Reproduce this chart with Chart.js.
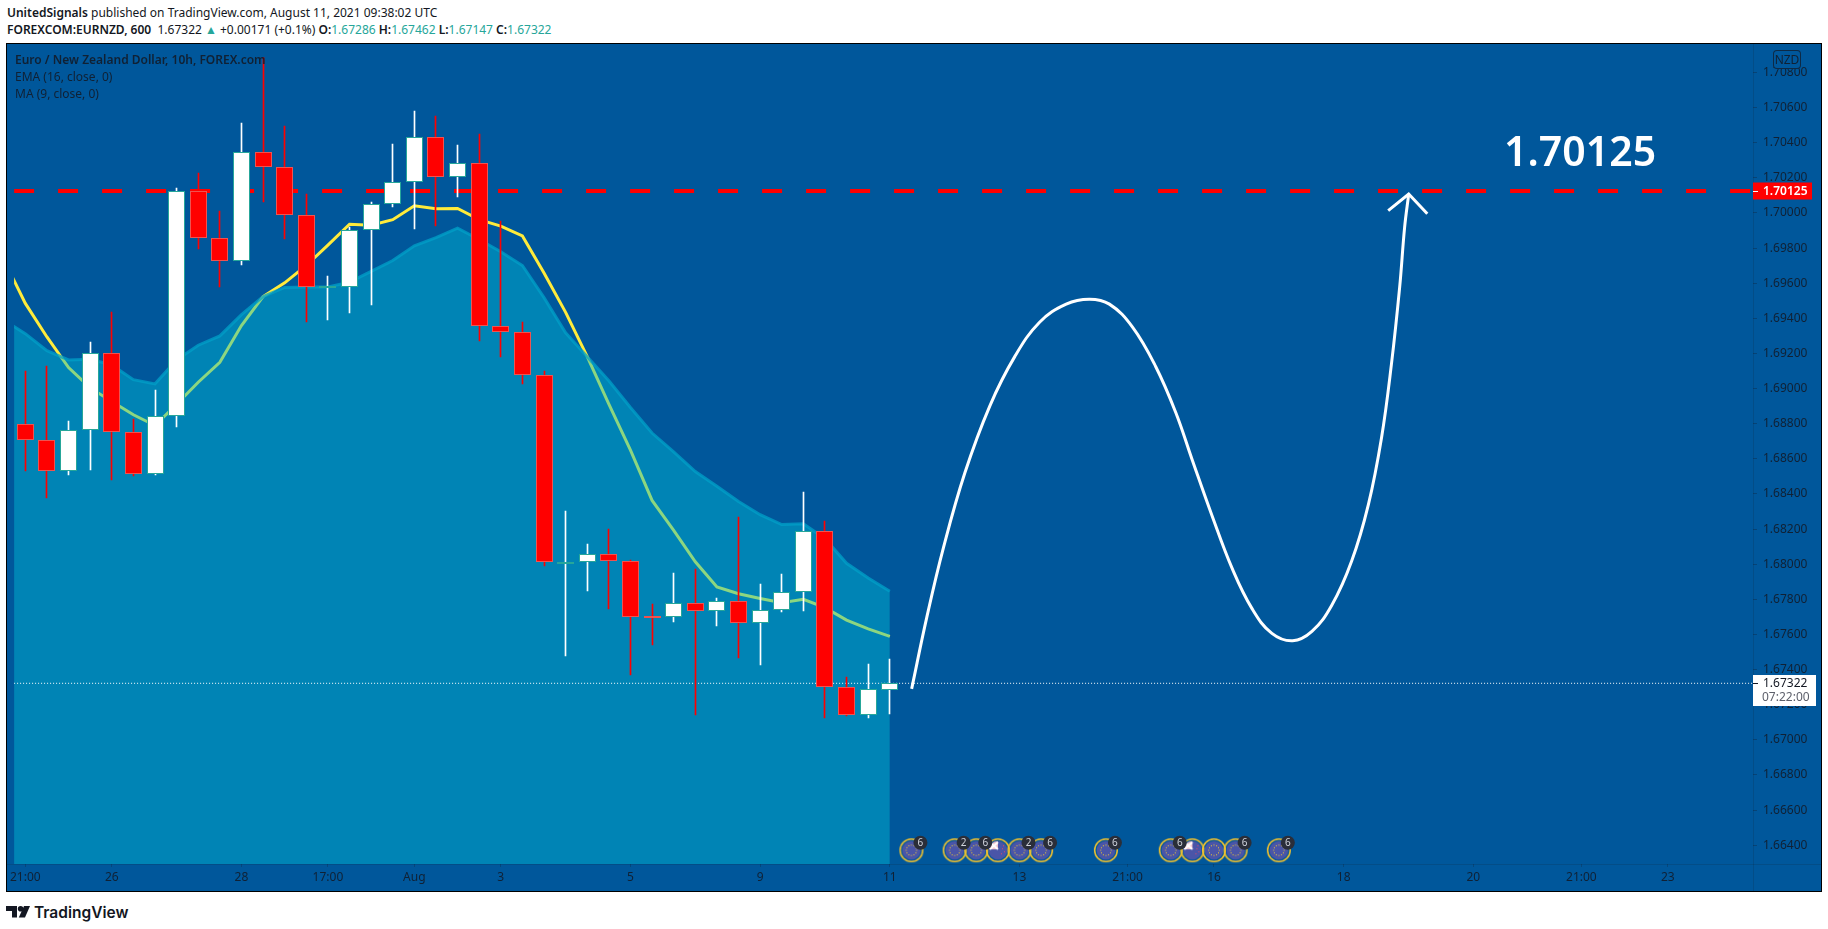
<!DOCTYPE html>
<html>
<head>
<meta charset="utf-8">
<title>EURNZD</title>
<script src="https://cdn.jsdelivr.net/npm/chart.js@4/dist/chart.umd.min.js"></script>
<style>
  html, body { margin: 0; padding: 0; background: #fff; width: 1828px; height: 929px; overflow: hidden; }
  body { font-family: "Noto Sans", sans-serif; color: #131722; position: relative; }
  .line { position: absolute; left: 7px; font-size: 12px; white-space: nowrap; line-height: 17px; }
  .line b { font-weight: 600; }
  .teal { color: #26a69a; }
  #pane { position: absolute; left: 6px; top: 43px; width: 1814px; height: 847px; border: 1px solid #000; background: #00579b; overflow: hidden; }
  #pane canvas { position: absolute; left: 0; top: 0; }
  .rule { position: absolute; background: rgba(19,23,34,0.16); }
  #legend { position: absolute; left: 8px; top: 7px; font-size: 12px; line-height: 17px; color: rgba(19,23,34,0.85); white-space: nowrap; }
  #legend b { font-weight: 600; }
  #nzd { position: absolute; left: 1766px; top: 6px; width: 26px; height: 17px; line-height: 17px; border: 1px solid rgba(19,23,34,0.7); border-radius: 4px; background: #00579b; font-size: 12px; text-align: center; color: rgba(19,23,34,0.85); box-sizing: content-box; }
  #logo { position: absolute; left: 6px; top: 900px; height: 24px; display: flex; align-items: center; font-family: Inter, sans-serif; font-weight: 600; font-size: 15.5px; color: #131722; }
  #logo svg { margin-right: 4px; }
</style>
</head>
<body>
<div class="line" style="top:4px"><b>UnitedSignals</b> published on TradingView.com, August 11, 2021 09:38:02 UTC</div>
<div class="line" style="top:21px"><b>FOREXCOM:EURNZD, 600</b>&nbsp; 1.67322 <span class="teal">▲</span> +0.00171 (+0.1%) <b>O:</b><span class="teal">1.67286</span> <b>H:</b><span class="teal">1.67462</span> <b>L:</b><span class="teal">1.67147</span> <b>C:</b><span class="teal">1.67322</span></div>
<div id="pane">
  <div class="rule" style="left:1746px;top:0;width:1px;height:847px"></div>
  <div class="rule" style="left:0;top:820px;width:1814px;height:1px"></div>
  <canvas id="chart" width="1814" height="847"></canvas>
  <div id="legend"><b>Euro / New Zealand Dollar, 10h, FOREX.com</b><br>EMA (16, close, 0)<br>MA (9, close, 0)</div>
  <div id="nzd">NZD</div>
</div>
<div id="logo">
  <svg width="24" height="12" viewBox="0 0 24 12"><path d="M0 0h11v11.5h-5v-6.5h-6z" fill="#131722"/><circle cx="14.6" cy="2.8" r="2.8" fill="#131722"/><path d="M18 0h6l-5 11.5h-6.2z" fill="#131722"/></svg>
  TradingView
</div>
<script>
// OHLC, one entry per 10h bar
const opens = [1.68799,1.68706,1.68532,1.68762,1.69204,1.68751,1.68515,1.68846,1.70123,1.6986,1.69729,1.70347,1.70263,1.69989,1.69578,1.6958,1.69905,1.7005,1.70174,1.70431,1.70207,1.70286,1.69356,1.69325,1.69076,1.68009,1.68014,1.68056,1.6802,1.67703,1.67697,1.67781,1.67734,1.67792,1.67664,1.6774,1.67843,1.6819,1.67299,1.67142,1.67286];
const highs = [1.69098,1.69129,1.68814,1.69266,1.69434,1.68827,1.68993,1.7014,1.7023,1.70013,1.70512,1.70965,1.70495,1.70106,1.69643,1.69919,1.70063,1.70394,1.70579,1.70555,1.70388,1.7045,1.69957,1.69378,1.69101,1.68304,1.68117,1.68201,1.68024,1.67776,1.67949,1.67973,1.67805,1.68269,1.67889,1.67945,1.6841,1.68246,1.67357,1.6743,1.67462];
const lows = [1.68528,1.68378,1.68506,1.68534,1.68478,1.685,1.68506,1.6878,1.69793,1.69578,1.69701,1.70063,1.6985,1.69378,1.69393,1.6943,1.69475,1.70035,1.69908,1.69925,1.70091,1.69273,1.69178,1.69027,1.6799,1.67475,1.67846,1.67744,1.6737,1.67542,1.67671,1.6714,1.67648,1.67464,1.67424,1.67727,1.67733,1.67122,1.67133,1.67122,1.67147];
const closes = [1.68706,1.68532,1.68762,1.69204,1.68751,1.68515,1.68846,1.70123,1.6986,1.69729,1.70347,1.70263,1.69989,1.6958,1.69582,1.69905,1.7005,1.70174,1.70431,1.70207,1.70286,1.69356,1.69325,1.69076,1.68011,1.68014,1.68056,1.6802,1.677,1.67695,1.67781,1.67734,1.6779,1.67664,1.6774,1.67843,1.6819,1.67299,1.67142,1.67288,1.67322];

// indicators, first entry is the bar before the left edge (index -1)
const emaValues = [1.69391,1.69313,1.69216,1.69163,1.69167,1.69135,1.69051,1.69027,1.69163,1.69247,1.693,1.69421,1.69524,1.69576,1.69578,1.69578,1.69606,1.69667,1.69729,1.69813,1.6986,1.69914,1.69849,1.69779,1.69701,1.69518,1.69318,1.69182,1.69045,1.68892,1.68747,1.6864,1.68528,1.68444,1.68357,1.68282,1.68226,1.6823,1.68145,1.68005,1.67921,1.67846];
const maValues = [1.69735,1.69485,1.69294,1.6912,1.69004,1.68926,1.68851,1.6879,1.68911,1.69036,1.6915,1.69359,1.69524,1.69602,1.69701,1.69817,1.69936,1.6993,1.69962,1.70041,1.70024,1.70026,1.69962,1.69925,1.69869,1.69658,1.69434,1.69182,1.68911,1.6865,1.68363,1.68192,1.68014,1.67871,1.67832,1.67805,1.67781,1.678,1.67753,1.67682,1.67632,1.67589];

// hand drawn projection
const curveX = [41.01,41.71,42.47,43.47,44.63,45.78,46.93,48.16,49.23,50.16,51.23,52.3,53.23,53.99,54.91,55.84,56.76,57.68,58.64,59.53,60.45,61.37,62.14,62.75,63.21,63.59,63.82,64.01];
const curveY = [1.6729,1.67697,1.68089,1.68519,1.68902,1.69182,1.69378,1.69481,1.69509,1.69481,1.6935,1.69126,1.68864,1.68595,1.68276,1.67976,1.67747,1.67606,1.67564,1.67617,1.67766,1.68018,1.68338,1.68719,1.69139,1.69576,1.69918,1.70108];
const arrowX = [63.06,64.01,64.87];
const arrowY = [1.70013,1.70108,1.69996];

const targetPrice = 1.70125;
const lastPrice = 1.67322;
const targetText = '1.70125';
const countdownText = '07:22:00';
const targetTextX = 71.94;
const targetTextY = 1.70332;

// economic events along the bottom
const eventIdx = [41,43,44,45,46,47,50,53,54,55,56,58];
const eventFlag = ['eu','eu','eu','nz','eu','eu','eu','eu','nz','eu','eu','eu'];
const eventBadge = ['6','2','6','','2','6','6','6','','','6','6'];
const eventPrice = 1.66371;

const yTicks = [1.664,1.666,1.668,1.67,1.672,1.674,1.676,1.678,1.68,1.682,1.684,1.686,1.688,1.69,1.692,1.694,1.696,1.698,1.7,1.702,1.704,1.706,1.708];
const xTickIdx = [0,4,10,14,18,22,28,34,40,46,51,55,61,67,72,76];
const xTickLabels = ['21:00','26','28','17:00','Aug','3','5','9','11','13','21:00','16','18','20','21:00','23'];

const xMin = -0.5207, xMax = 79.94;
const yMin = 1.66293, yMax = 1.70887;
const FONT = '"Noto Sans", sans-serif';

const bars = opens.map((o, i) => i);
const isUp = opens.map((o, i) => closes[i] >= o);

function eventIcon(flag) {
  const c = document.createElement('canvas');
  c.width = 26; c.height = 26;
  const g = c.getContext('2d');
  g.translate(13, 13);
  g.beginPath(); g.arc(0, 0, 9.3, 0, Math.PI * 2); g.fillStyle = '#4a55a8'; g.fill();
  if (flag === 'eu') {
    g.fillStyle = '#f5d030';
    for (let i = 0; i < 12; i++) {
      const a = i * Math.PI / 6;
      g.fillRect(Math.cos(a) * 5.2 - 0.5, Math.sin(a) * 5.2 - 0.5, 1, 1);
    }
  } else {
    g.save();
    g.beginPath(); g.arc(0, 0, 9.3, 0, Math.PI * 2); g.clip();
    g.fillStyle = '#f4c6d0'; g.fillRect(-9, -9, 9, 8);
    g.strokeStyle = '#fff'; g.lineWidth = 2;
    g.beginPath(); g.moveTo(-8, -8); g.lineTo(0, -1); g.moveTo(0, -8); g.lineTo(-8, -1); g.stroke();
    g.fillStyle = '#e04a6a';
    [[4, -2], [6, 1], [3, 3], [5, -5]].forEach(p => g.fillRect(p[0], p[1], 1, 1));
    g.restore();
  }
  g.beginPath(); g.arc(0, 0, 11.3, 0, Math.PI * 2);
  g.strokeStyle = '#f2c22e'; g.lineWidth = 1.5; g.stroke();
  return c;
}

// snap candles to whole pixels so wicks stay one pixel wide
const snapBars = {
  id: 'snapBars',
  beforeDatasetDraw(chart, args) {
    const meta = args.meta;
    if (meta.type !== 'bar') return;
    meta.data.forEach(el => {
      el.x = Math.floor(el.x) + 0.5;
      el.y = Math.round(el.y);
      el.base = Math.round(el.base);
      if (meta.label === 'body' && Math.abs(el.base - el.y) < 2) el.base = el.y + 2;
    });
  }
};

const overlays = {
  id: 'overlays',
  afterDatasetsDraw(chart) {
    const g = chart.ctx, x = chart.scales.x, y = chart.scales.y;
    g.save();
    // big target label
    g.fillStyle = '#fff';
    g.font = '600 41px ' + FONT;
    g.textAlign = 'center';
    g.textBaseline = 'middle';
    g.fillText(targetText, x.getPixelForValue(targetTextX), y.getPixelForValue(targetTextY));

    // event badges
    const meta = chart.getDatasetMeta(chart.data.datasets.findIndex(d => d.label === 'events'));
    meta.data.forEach((pt, i) => {
      if (!eventBadge[i]) return;
      g.beginPath();
      g.arc(pt.x + 9, pt.y - 7.5, 7, 0, Math.PI * 2);
      g.fillStyle = '#2a2e39';
      g.fill();
      g.fillStyle = '#d1d4dc';
      g.font = '10px ' + FONT;
      g.fillText(eventBadge[i], pt.x + 9, pt.y - 7.5);
    });

    // price tags on the axis
    const left = y.left;
    const ty = Math.round(y.getPixelForValue(targetPrice));
    g.fillStyle = '#ff0000';
    g.fillRect(left, ty - 8.5, 59, 17);
    g.fillStyle = '#fff';
    g.fillRect(left, ty, 5, 1);
    g.font = '600 12px ' + FONT;
    g.textAlign = 'left';
    g.fillText(targetPrice.toFixed(5), left + 10, ty + 0.5);

    const ly = Math.round(y.getPixelForValue(lastPrice));
    g.fillStyle = '#fff';
    g.fillRect(left, ly - 8, 63, 31);
    g.fillStyle = '#131722';
    g.fillRect(left, ly, 5, 1);
    g.font = '12px ' + FONT;
    g.fillText(lastPrice.toFixed(5), left + 10, ly + 0.5);
    g.fillStyle = '#5d606b';
    g.fillText(countdownText, left + 9, ly + 15);
    g.restore();
  }
};

new Chart(document.getElementById('chart').getContext('2d'), {
  type: 'bar',
  plugins: [snapBars, overlays],
  data: {
    datasets: [
      {
        type: 'line', label: 'target', order: 7,
        data: [{ x: xMin, y: targetPrice }, { x: xMax, y: targetPrice }],
        borderColor: '#ff0000', borderWidth: 4, borderDash: [20, 24], pointRadius: 0
      },
      {
        type: 'line', label: 'MA', order: 6,
        data: maValues.map((v, i) => ({ x: i - 1, y: v })),
        borderColor: '#ffeb3b', borderWidth: 3, pointRadius: 0, tension: 0
      },
      {
        type: 'line', label: 'EMA', order: 5,
        data: emaValues.map((v, i) => ({ x: i - 1, y: v })),
        borderColor: 'rgba(0,160,200,0.75)', borderWidth: 3, pointRadius: 0, tension: 0,
        fill: 'start', backgroundColor: 'rgba(0,188,212,0.45)'
      },
      {
        type: 'line', label: 'last', order: 4,
        data: [{ x: xMin, y: lastPrice }, { x: xMax, y: lastPrice }],
        borderColor: '#fff', borderWidth: 1, borderDash: [1, 2], pointRadius: 0
      },
      {
        label: 'wick', order: 3, grouped: false, barThickness: 1, borderWidth: 0,
        data: bars.map(i => ({ x: i, y: [lows[i], highs[i]] })),
        backgroundColor: bars.map(i => isUp[i] ? '#ffffff' : '#ff0000')
      },
      {
        label: 'body', order: 2, grouped: false, barThickness: 17, borderWidth: 1, borderSkipped: false, inflateAmount: 0,
        data: bars.map(i => ({ x: i, y: [opens[i], closes[i]] })),
        backgroundColor: bars.map(i => isUp[i] ? '#ffffff' : '#ff0000'),
        borderColor: bars.map(i => isUp[i] ? '#26a69a' : '#ef5350')
      },
      {
        type: 'line', label: 'curve', order: 1,
        data: curveX.map((v, i) => ({ x: v, y: curveY[i] })),
        borderColor: '#fff', borderWidth: 3, pointRadius: 0, tension: 0.4, clip: false
      },
      {
        type: 'line', label: 'arrow', order: 1,
        data: arrowX.map((v, i) => ({ x: v, y: arrowY[i] })),
        borderColor: '#fff', borderWidth: 3, pointRadius: 0, tension: 0
      },
      {
        type: 'line', label: 'events', order: 0, showLine: false,
        data: eventIdx.map(v => ({ x: v, y: eventPrice })),
        pointStyle: eventFlag.map(eventIcon), pointRadius: 13
      }
    ]
  },
  options: {
    responsive: false,
    animation: false,
    events: [],
    layout: { autoPadding: false, padding: 0 },
    plugins: { legend: { display: false }, tooltip: { enabled: false } },
    scales: {
      x: {
        type: 'linear', offset: false, min: xMin, max: xMax,
        afterBuildTicks(s) { s.ticks = xTickIdx.map(v => ({ value: v })); },
        afterFit(s) { s.height = 27; },
        grid: { offset: false, drawOnChartArea: false, tickLength: 3, color: 'rgba(19,23,34,0.25)' },
        border: { display: false },
        ticks: {
          autoSkip: false, maxRotation: 0, padding: 3,
          color: 'rgba(19,23,34,0.85)', font: { family: FONT, size: 12 },
          callback: v => xTickLabels[xTickIdx.indexOf(v)]
        }
      },
      y: {
        type: 'linear', position: 'right', beginAtZero: false, min: yMin, max: yMax,
        afterBuildTicks(s) { s.ticks = yTicks.map(v => ({ value: v })); },
        afterFit(s) { s.width = 68; },
        grid: { drawOnChartArea: false, tickLength: 4, color: 'rgba(19,23,34,0.3)' },
        border: { display: false },
        ticks: {
          padding: 6,
          color: 'rgba(19,23,34,0.85)', font: { family: FONT, size: 12 },
          callback: v => v.toFixed(5)
        }
      }
    }
  }
});
</script>
</body>
</html>
